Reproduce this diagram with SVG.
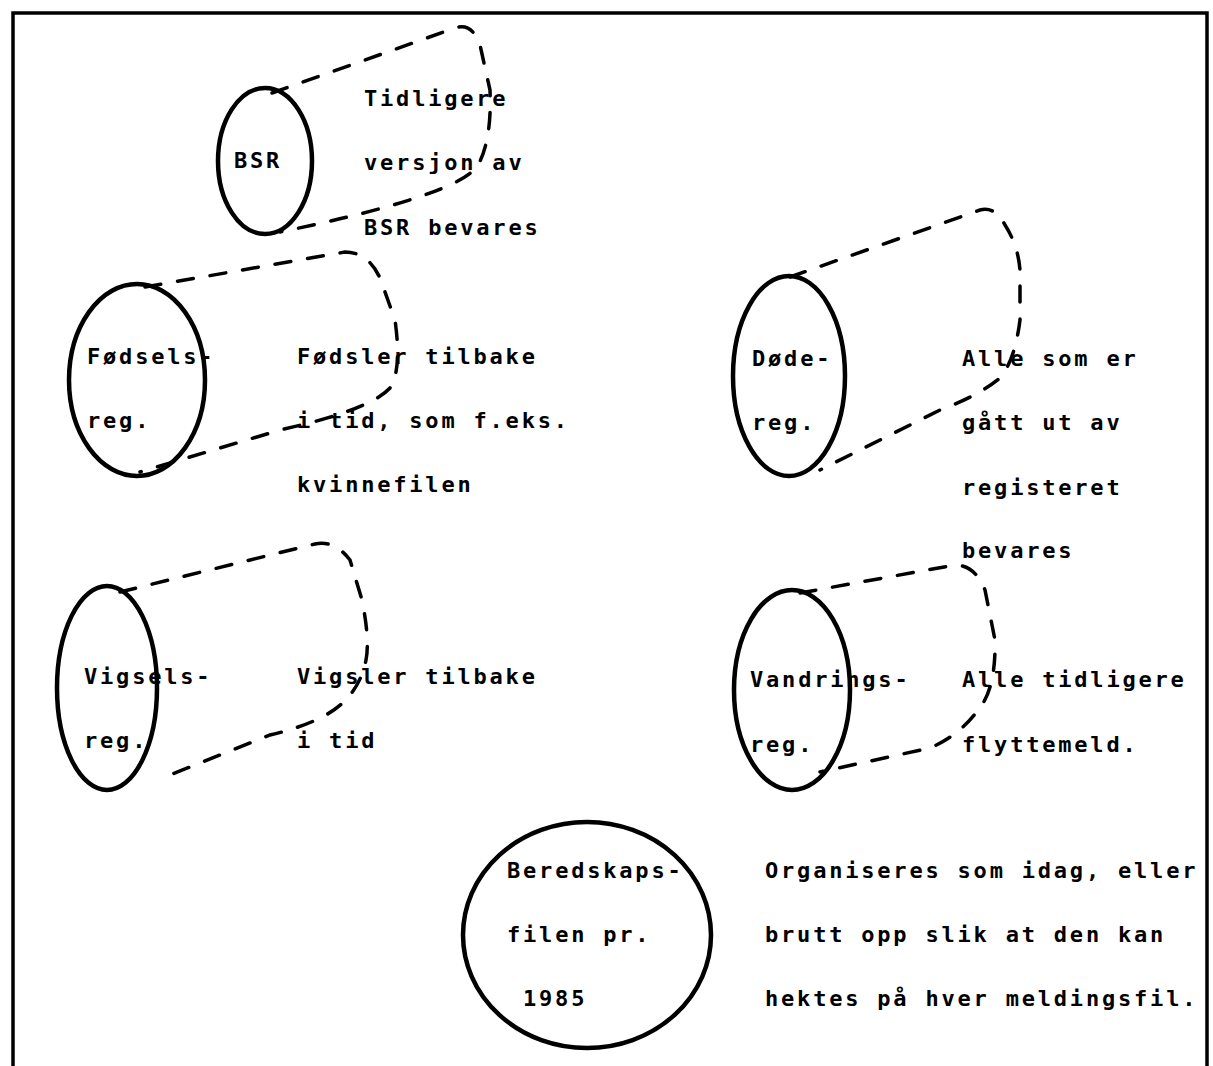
<svg xmlns="http://www.w3.org/2000/svg" width="1213" height="1066" viewBox="0 0 1213 1066">
<style>
.t{font-family:"DejaVu Sans Mono","Liberation Mono",monospace;font-weight:bold;font-size:22px;letter-spacing:2.8px;fill:#000}
.e{fill:none;stroke:#000;stroke-width:4.5}
.d{fill:none;stroke:#000;stroke-width:3.5;stroke-dasharray:16 17;stroke-linecap:round}
.b{fill:none;stroke:#000;stroke-width:3.5}
</style>
<rect width="1213" height="1066" fill="#fff"/>
<g id="frame">
<path class="b" d="M13 1066 V13 H1207 V1066"/>
</g>
<g id="connectors"></g>
<g id="bsr">
<path class="d" d="M272 93 L455 28 Q472 22 480 45 L490 90 Q492 140 478 165 Q460 195 280 232"/>
<ellipse class="e" cx="265" cy="161" rx="47" ry="73"/>
<text class="t" x="234" y="168">BSR</text>
<text class="t" x="364" y="106">Tidligere</text>
<text class="t" x="364" y="170">versjon av</text>
<text class="t" x="364" y="235">BSR bevares</text>
</g>
<g id="fodsel">
<path class="d" d="M145 287 L345 252 Q368 252 380 278 L395 320 Q402 370 390 388 Q370 410 280 430 L140 472"/>
<ellipse class="e" cx="137" cy="380" rx="68" ry="96"/>
<text class="t" x="87" y="364">Fødsels-</text>
<text class="t" x="87" y="428">reg.</text>
<text class="t" x="297" y="364">Fødsler tilbake</text>
<text class="t" x="297" y="428">i tid, som f.eks.</text>
<text class="t" x="297" y="492">kvinnefilen</text>
</g>
<g id="dode">
<path class="d" d="M790 277 L980 210 Q995 206 1005 225 Q1018 245 1020 270 L1020 320 Q1015 360 1000 378 Q980 395 940 410 L820 470"/>
<ellipse class="e" cx="789" cy="376" rx="56" ry="100"/>
<text class="t" x="752" y="366">Døde-</text>
<text class="t" x="752" y="430">reg.</text>
<text class="t" x="962" y="366">Alle som er</text>
<text class="t" x="962" y="430">gått ut av</text>
<text class="t" x="962" y="495">registeret</text>
<text class="t" x="962" y="558">bevares</text>
</g>
<g id="vigsel">
<path class="d" d="M120 592 L315 544 Q335 540 350 560 L362 600 Q370 640 366 660 Q358 700 320 718 Q300 728 270 735 L170 775"/>
<ellipse class="e" cx="107" cy="688" rx="50" ry="102"/>
<text class="t" x="84" y="684">Vigsels-</text>
<text class="t" x="84" y="748">reg.</text>
<text class="t" x="297" y="684">Vigsler tilbake</text>
<text class="t" x="297" y="748">i tid</text>
</g>
<g id="vandring">
<path class="d" d="M800 593 L955 565 Q975 565 985 590 L995 640 Q996 690 978 710 Q960 735 930 748 L820 772"/>
<ellipse class="e" cx="792" cy="690" rx="58" ry="100"/>
<text class="t" x="750" y="687">Vandrings-</text>
<text class="t" x="750" y="752">reg.</text>
<text class="t" x="962" y="687">Alle tidligere</text>
<text class="t" x="962" y="752">flyttemeld.</text>
</g>
<g id="beredskap">
<ellipse class="e" cx="587" cy="935" rx="124" ry="113"/>
<text class="t" x="507" y="878">Beredskaps-</text>
<text class="t" x="507" y="942">filen pr.</text>
<text class="t" x="523" y="1006">1985</text>
<text class="t" x="765" y="878">Organiseres som idag, eller</text>
<text class="t" x="765" y="942">brutt opp slik at den kan</text>
<text class="t" x="765" y="1006">hektes på hver meldingsfil.</text>
</g>
</svg>
